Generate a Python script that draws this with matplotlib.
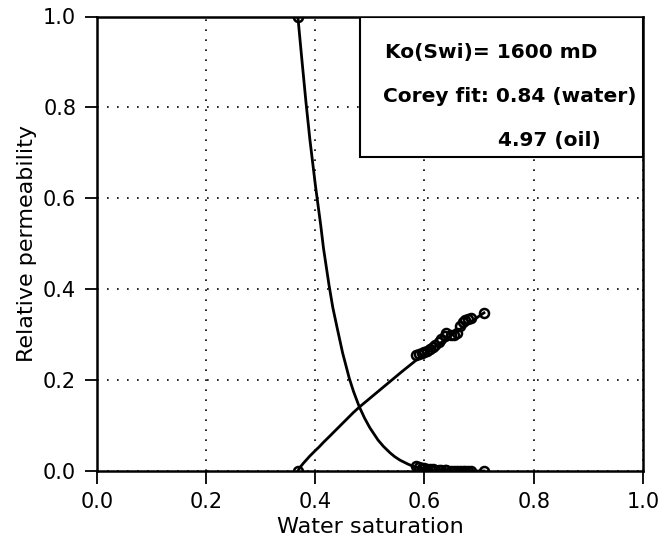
import numpy as np
import matplotlib.pyplot as plt
from matplotlib.patches import Rectangle

# fitted curves
sw_oil_fit = [0.368, 0.375, 0.383, 0.390, 0.400, 0.410, 0.415, 0.425, 0.432, 0.440,
              0.450, 0.462, 0.470, 0.480, 0.490, 0.500, 0.515, 0.525, 0.537, 0.545,
              0.555, 0.570, 0.582, 0.600, 0.630, 0.660, 0.709]
kro_fit = [1.0, 0.91, 0.81, 0.73, 0.63, 0.54, 0.49, 0.41, 0.36, 0.315,
           0.26, 0.205, 0.175, 0.143, 0.117, 0.095, 0.068, 0.054, 0.040, 0.032,
           0.024, 0.015, 0.009, 0.004, 0.001, 0.0002, 0.0]

sw_wat_fit = [0.368, 0.372, 0.378, 0.384, 0.390, 0.400, 0.407, 0.414, 0.425, 0.440,
              0.450, 0.460, 0.470, 0.482, 0.495, 0.510, 0.525, 0.540, 0.560, 0.585,
              0.610, 0.640, 0.670, 0.709]
krw_fit = [0.0, 0.008, 0.017, 0.025, 0.033, 0.045, 0.053, 0.062, 0.075, 0.093,
           0.105, 0.117, 0.129, 0.142, 0.155, 0.170, 0.185, 0.200, 0.220, 0.244,
           0.265, 0.291, 0.316, 0.348]

# measured points
sw_pts = [0.585, 0.590, 0.595, 0.600, 0.605, 0.610, 0.615, 0.620, 0.626, 0.631,
          0.637, 0.640, 0.648, 0.655, 0.660, 0.665, 0.670, 0.675, 0.680, 0.685]
krw_pts = [0.255, 0.257, 0.260, 0.262, 0.265, 0.268, 0.272, 0.277, 0.283, 0.290,
           0.296, 0.303, 0.300, 0.300, 0.303, 0.320, 0.328, 0.333, 0.335, 0.336]
kro_pts = [0.012, 0.009, 0.007, 0.006, 0.005, 0.004, 0.004, 0.003, 0.003, 0.002,
           0.002, 0.002, 0.001, 0.001, 0.001, 0.001, 0.0, 0.0, 0.0, 0.0]

sw_end = [0.368, 0.709]
kro_end = [1.0, 0.0]
krw_end = [0.0, 0.348]

fig = plt.figure(figsize=(6.62, 5.5), dpi=100)
ax = fig.add_axes([0.1465, 0.1436, 0.8245, 0.8264])

ax.plot(sw_oil_fit, kro_fit, color="black", lw=2.0, zorder=3)
ax.plot(sw_wat_fit, krw_fit, color="black", lw=2.0, zorder=3)

mk = dict(ls="none", marker="o", ms=6.5, mfc="none", mec="black", mew=1.8, zorder=4)
ax.plot(sw_pts, krw_pts, **mk)
ax.plot(sw_pts, kro_pts, **mk)
ax.plot(sw_end, kro_end, **mk)
ax.plot(sw_end, krw_end, **mk)

ax.set_xlim(0, 1)
ax.set_ylim(0, 1)
ticks = [0.0, 0.2, 0.4, 0.6, 0.8, 1.0]
ax.set_xticks(ticks)
ax.set_yticks(ticks)
ax.set_xticklabels([f"{t:.1f}" for t in ticks])
ax.set_yticklabels([f"{t:.1f}" for t in ticks])
ax.tick_params(direction="out", length=9, width=1.3, labelsize=15, pad=6)
ax.grid(True, color="black", linestyle=(0, (1, 5)), linewidth=1.2)
for s in ax.spines.values():
    s.set_linewidth(1.8)

ax.set_xlabel("Water saturation", fontsize=16, labelpad=4)
ax.set_ylabel("Relative permeability", fontsize=16, labelpad=4)

# info box
ax.add_patch(Rectangle((0.482, 0.691), 0.518, 0.309, transform=ax.transAxes,
                       facecolor="white", edgecolor="black", lw=1.5, zorder=5))
ax.text(0.527, 0.92, "Ko(Swi)= 1600 mD", fontsize=14.5, fontweight="bold",
        va="center", ha="left", zorder=6)
ax.text(0.524, 0.823, "Corey fit: 0.84 (water)", fontsize=14.5, fontweight="bold",
        va="center", ha="left", zorder=6)
ax.text(0.734, 0.728, "4.97 (oil)", fontsize=14.5, fontweight="bold",
        va="center", ha="left", zorder=6)

fig.savefig("out.png", dpi=100)
